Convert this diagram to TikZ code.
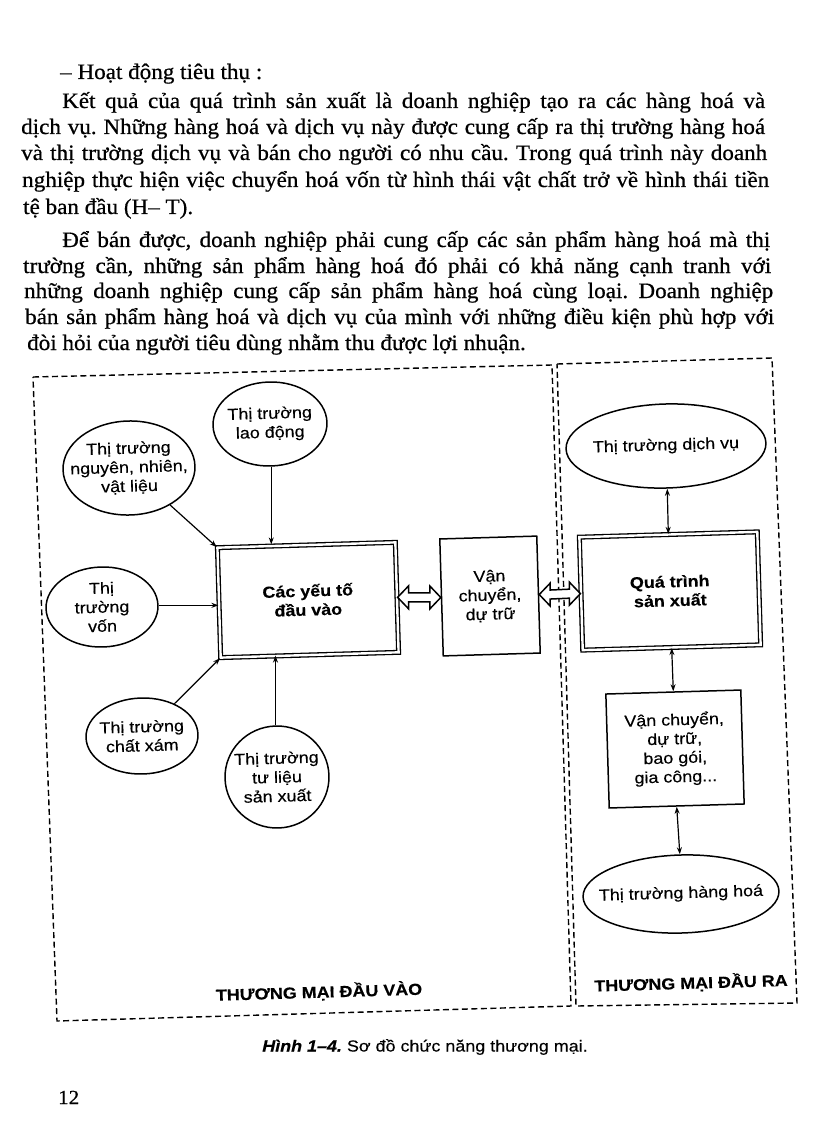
\documentclass[tikz,border=0pt]{standalone}
\usepackage{fontspec}
\setmainfont{Liberation Serif}[FakeStretch=1.05,FakeBold=0.6]
\newfontfamily\dsans{Liberation Sans}[FakeStretch=1.12,FakeBold=0.3]
\usetikzlibrary{shapes.geometric,arrows.meta,calc}
\frenchspacing
\newcommand\fatconn[2]{%
  \draw[fatarr] (#1) -- ($(#1)+(11,-11.5)$) -- ($(#1)+(11,-4.5)$) -- ($(#2)+(-11,-4.5)$)
   -- ($(#2)+(-11,-11.5)$) -- (#2) -- ($(#2)+(-11,11.5)$) -- ($(#2)+(-11,4.5)$)
   -- ($(#1)+(11,4.5)$) -- ($(#1)+(11,11.5)$) -- cycle;}
\begin{document}
\begin{tikzpicture}[x=1pt,y=-1pt,
  bodyline/.style={anchor=base west, inner sep=0pt, font=\fontsize{22}{25}\selectfont},
  mk/.style={ellipse, draw, line width=1.5pt, inner xsep=-20pt, inner ysep=-10pt, align=center,
    font=\dsans\fontsize{16}{19}\selectfont, rotate=1.7},
  dbox/.style={rectangle, draw, double, double distance=2.4pt, line width=1.3pt,
    align=center, font=\dsans\bfseries\fontsize{16}{19}\selectfont, rotate=1.7},
  sbox/.style={rectangle, draw, line width=1.5pt, align=center,
    font=\dsans\fontsize{16}{19}\selectfont, rotate=1.7},
  arr/.style={line width=1.2pt, -{Stealth[length=7pt,width=5pt]}},
  darr/.style={line width=1.2pt, {Stealth[length=7pt,width=5pt]}-{Stealth[length=7pt,width=5pt]}},
  frame/.style={line width=1.4pt, dash pattern=on 6pt off 3.5pt},
  fatarr/.style={draw, fill=white, line width=1.5pt, line join=miter},
  lbl/.style={font=\dsans\bfseries\fontsize{16}{19}\selectfont, rotate=1.7, inner sep=0pt}
]
\fill[white] (0,0) rectangle (816,1123);
\useasboundingbox (0,0) rectangle (816,1123);

% ---------- body text ----------
\node[bodyline] (h0) at (60,79) {– Hoạt động tiêu thụ :};
\node[bodyline] (a1) at (62,108) {\makebox[703pt][s]{Kết quả của quá trình sản xuất là doanh nghiệp tạo ra các hàng hoá và}};
\node[bodyline] (a2) at (21,134) {\makebox[744pt][s]{dịch vụ. Những hàng hoá và dịch vụ này được cung cấp ra thị trường hàng hoá}};
\node[bodyline] (a3) at (21,160) {\makebox[746pt][s]{và thị trường dịch vụ và bán cho người có nhu cầu. Trong quá trình này doanh}};
\node[bodyline] (a4) at (22,187) {\makebox[747pt][s]{nghiệp thực hiện việc chuyển hoá vốn từ hình thái vật chất trở về hình thái tiền}};
\node[bodyline] (a5) at (23,214) {tệ ban đầu (H– T).};
\node[bodyline] (b1) at (62,247) {\makebox[708pt][s]{Để bán được, doanh nghiệp phải cung cấp các sản phẩm hàng hoá mà thị}};
\node[bodyline] (b2) at (23,273) {\makebox[748pt][s]{trường cần, những sản phẩm hàng hoá đó phải có khả năng cạnh tranh với}};
\node[bodyline] (b3) at (24,298) {\makebox[749pt][s]{những doanh nghiệp cung cấp sản phẩm hàng hoá cùng loại. Doanh nghiệp}};
\node[bodyline] (b4) at (25,324) {\makebox[749pt][s]{bán sản phẩm hàng hoá và dịch vụ của mình với những điều kiện phù hợp với}};
\node[bodyline] (b5) at (27,350) {đòi hỏi của người tiêu dùng nhằm thu được lợi nhuận.};

% ---------- frames ----------
\draw[frame] (33,377) -- (552,365) -- (571,1006) -- (57,1021) -- cycle;
\draw[frame] (557,364) -- (772,358) -- (797,1003) -- (576,1006) -- cycle;

% ---------- left part ----------
\node[dbox, minimum width=178pt, minimum height=110pt] (yt) at (308,600) {Các yếu tố\\đầu vào};
\node[mk, minimum width=114pt, minimum height=84pt] (ld) at (270,424) {Thị trường\\lao động};
\node[mk, minimum width=132pt, minimum height=94pt] (ng) at (129,468) {Thị trường\\nguyên, nhiên,\\vật liệu};
\node[mk, minimum width=112pt, minimum height=80pt] (vn) at (102,607) {Thị\\trường\\vốn};
\node[mk, minimum width=112pt, minimum height=76pt] (cx) at (142,736) {Thị trường\\chất xám};
\node[mk, minimum width=104pt, minimum height=102pt] (tl) at (277,777) {Thị trường\\tư liệu\\sản xuất};
\node[sbox, minimum width=97pt, minimum height=117pt] (vc) at (490,596) {Vận\\chuyển,\\dự trữ};

\draw[arr] (ld.south) -- (ld.south |- yt.north);
\draw[arr] (ng) -- (yt.north west);
\draw[arr] (vn.east) -- (vn.east -| yt.west);
\draw[arr] (cx) -- (yt.south west);
\draw[arr] (tl.north) -- (tl.north |- yt.south);

% ---------- right part ----------
\node[mk, minimum width=200pt, minimum height=84pt] (dv) at (666,446) {Thị trường dịch vụ};
\node[dbox, minimum width=178pt, minimum height=113pt] (sx) at (670,591) {Quá trình\\sản xuất};
\node[sbox, minimum width=135pt, minimum height=114pt] (vb) at (675,749) {Vận chuyển,\\dự trữ,\\bao gói,\\gia công...};
\node[mk, minimum width=196pt, minimum height=78pt] (hh) at (681,894) {Thị trường hàng hoá};

\draw[darr] (dv.south) -- (sx.north);
\draw[darr] (sx.south) -- (vb.north);
\draw[darr] (vb.south) -- (hh.north);

% ---------- fat double arrows ----------
\fatconn{yt.east}{vc.west}
\fatconn{vc.east}{sx.west}

% ---------- labels ----------
\node[lbl] (lin) at (319,992) {THƯƠNG MẠI ĐẦU VÀO};
\node[lbl] (lout) at (691,983) {THƯƠNG MẠI ĐẦU RA};

\node (cap) at (425,1047) {\dsans\fontsize{16}{19}\selectfont\textbf{\textit{Hình 1–4.}} Sơ đồ chức năng thương mại.};
\node[anchor=base west, inner sep=0pt] (pg) at (58,1104) {\fontsize{20}{24}\selectfont 12};
\end{tikzpicture}
\end{document}
